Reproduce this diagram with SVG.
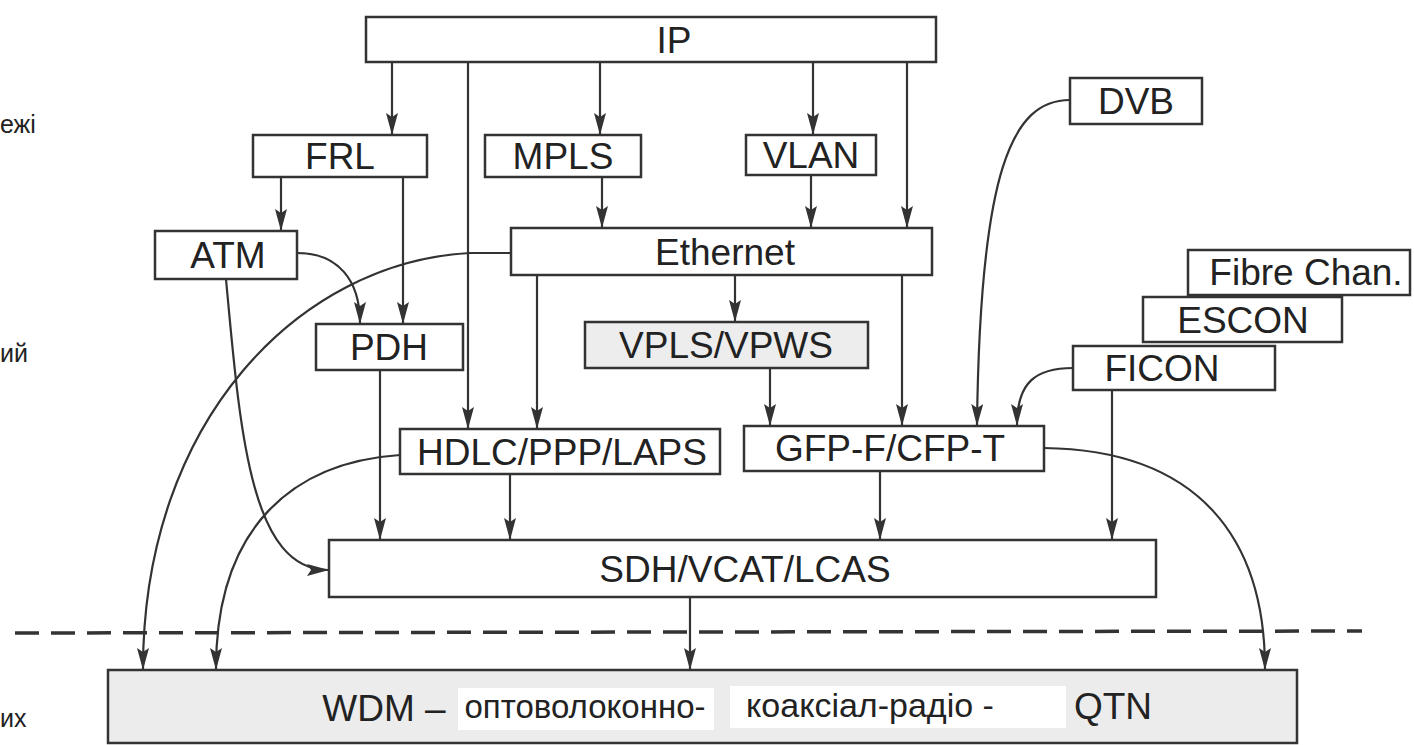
<svg xmlns="http://www.w3.org/2000/svg" width="1414" height="745" viewBox="0 0 1414 745">
<style>
.box{fill:#fff;stroke:#333;stroke-width:2.5}
.lbl{font-family:"Liberation Sans",Arial,sans-serif;font-size:37px;fill:#222;text-anchor:middle}
.side{font-family:"Liberation Sans",Arial,sans-serif;font-size:25px;fill:#222}
.c{fill:none;stroke:#333;stroke-width:2.2}
</style>
<defs>
<marker id="ah" markerWidth="22" markerHeight="12" refX="21" refY="6" orient="auto" markerUnits="userSpaceOnUse" viewBox="0 0 22 12">
<path d="M0,0 L22,6 L0,12 L4,6 Z" fill="#333"/>
</marker>
</defs>
<rect width="1414" height="745" fill="#fff"/>
<text class="side" x="0" y="133">ежі</text>
<text class="side" x="0" y="362">ий</text>
<text class="side" x="0" y="727">их</text>
<line x1="15" y1="633" x2="1362" y2="631" stroke="#333" stroke-width="3.5" stroke-dasharray="24 12"/>
<g id="connectors">
<path class="c" d="M392,62 V134" marker-end="url(#ah)"/>
<path class="c" d="M468,62 V428" marker-end="url(#ah)"/>
<path class="c" d="M600,62 V134" marker-end="url(#ah)"/>
<path class="c" d="M813,62 V134" marker-end="url(#ah)"/>
<path class="c" d="M907,62 V227" marker-end="url(#ah)"/>
<path class="c" d="M281,177 V230" marker-end="url(#ah)"/>
<path class="c" d="M403,177 V323" marker-end="url(#ah)"/>
<path class="c" d="M602,177 V227" marker-end="url(#ah)"/>
<path class="c" d="M811,175 V227" marker-end="url(#ah)"/>
<path class="c" d="M297,253 C338,253 360,280 360,323" marker-end="url(#ah)"/>
<path class="c" d="M226,279 C240,430 250,570 328,570" marker-end="url(#ah)"/>
<path class="c" d="M511,253 L470,253 C300,262 143,420 143,669" marker-end="url(#ah)"/>
<path class="c" d="M537,275 V428" marker-end="url(#ah)"/>
<path class="c" d="M735,275 V321" marker-end="url(#ah)"/>
<path class="c" d="M902,275 V425" marker-end="url(#ah)"/>
<path class="c" d="M770,368 V425" marker-end="url(#ah)"/>
<path class="c" d="M1070,100 C1012,100 980,170 977,425" marker-end="url(#ah)"/>
<path class="c" d="M1073,368 C1036,368 1017,382 1017,425" marker-end="url(#ah)"/>
<path class="c" d="M1112,390 V539" marker-end="url(#ah)"/>
<path class="c" d="M1044,448 C1200,450 1265,540 1265,669" marker-end="url(#ah)"/>
<path class="c" d="M400,455 C295,462 216,525 216,669" marker-end="url(#ah)"/>
<path class="c" d="M380,370 V539" marker-end="url(#ah)"/>
<path class="c" d="M510,474 V539" marker-end="url(#ah)"/>
<path class="c" d="M880,471 V539" marker-end="url(#ah)"/>
<path class="c" d="M690,597 V669" marker-end="url(#ah)"/>
</g>
<g id="ip"><rect class="box" x="366" y="17" width="570" height="45"/><text class="lbl" x="674" y="53">IP</text></g>
<g id="frl"><rect class="box" x="253" y="135" width="174" height="42"/><text class="lbl" x="340" y="169">FRL</text></g>
<g id="mpls"><rect class="box" x="485" y="135" width="156" height="42"/><text class="lbl" x="563" y="169">MPLS</text></g>
<g id="vlan"><rect class="box" x="746" y="135" width="130" height="40"/><text class="lbl" x="811" y="168">VLAN</text></g>
<g id="dvb"><rect class="box" x="1070" y="78" width="132" height="46"/><text class="lbl" x="1136" y="114">DVB</text></g>
<g id="atm"><rect class="box" x="155" y="231" width="142" height="48"/><text class="lbl" x="228" y="268">ATM</text></g>
<g id="ethernet"><rect class="box" x="511" y="228" width="421" height="47"/><text class="lbl" x="725" y="265">Ethernet</text></g>
<g id="fibrechan"><rect class="box" x="1188" y="250" width="222" height="45"/><text class="lbl" x="1306" y="285">Fibre Chan.</text></g>
<g id="escon"><rect class="box" x="1143" y="297" width="199" height="45"/><text class="lbl" x="1243" y="333">ESCON</text></g>
<g id="ficon"><rect class="box" x="1073" y="346" width="202" height="44"/><text class="lbl" x="1162" y="381">FICON</text></g>
<g id="pdh"><rect class="box" x="316" y="324" width="147" height="46"/><text class="lbl" x="389" y="360">PDH</text></g>
<g id="vpls"><rect class="box" x="585" y="322" width="283" height="46" style="fill:#ededed"/><text class="lbl" x="726" y="358">VPLS/VPWS</text></g>
<g id="hdlc"><rect class="box" x="400" y="429" width="320" height="45"/><text class="lbl" x="562" y="465">HDLC/PPP/LAPS</text></g>
<g id="gfp"><rect class="box" x="744" y="426" width="300" height="45"/><text class="lbl" x="890" y="461">GFP-F/CFP-T</text></g>
<g id="sdh"><rect class="box" x="329" y="540" width="827" height="57"/><text class="lbl" x="745" y="582">SDH/VCAT/LCAS</text></g>
<g id="wdm">
<rect class="box" x="108" y="670" width="1189" height="73" style="fill:#ececec"/>
<rect x="458" y="688" width="256" height="42" fill="#fff"/>
<rect x="730" y="686" width="336" height="42" fill="#fff"/>
<text class="lbl" x="384" y="721">WDM –</text>
<text class="lbl" x="585" y="718" style="font-size:33px">оптоволоконно-</text>
<text class="lbl" x="870" y="717" style="font-size:34px">коаксіал-радіо -</text>
<text class="lbl" x="1113" y="719">QTN</text>
</g>
</svg>
